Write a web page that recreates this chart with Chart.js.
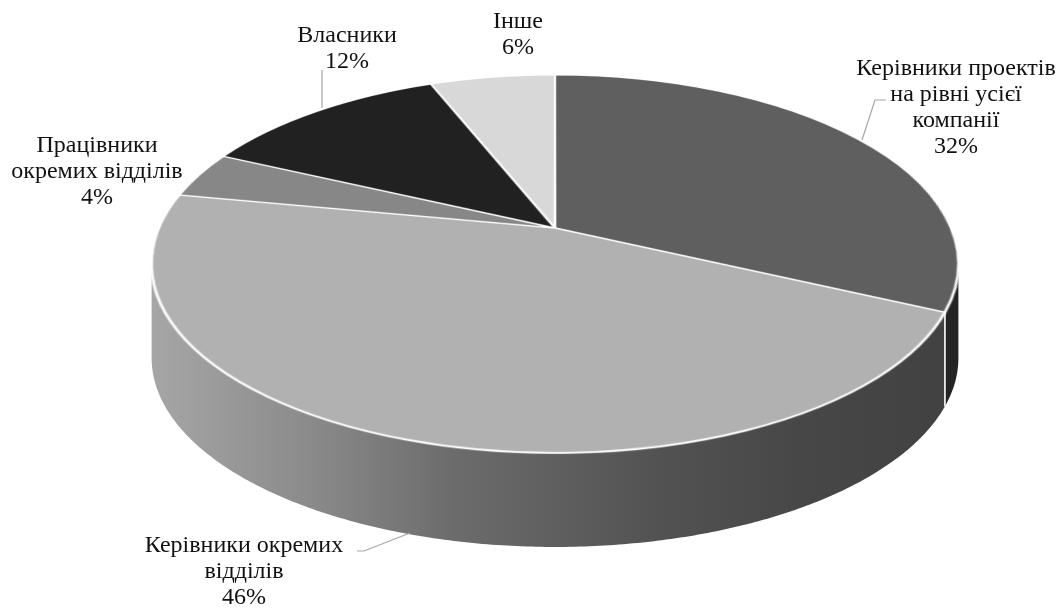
<!DOCTYPE html>
<html>
<head>
<meta charset="utf-8">
<script src="https://cdn.jsdelivr.net/npm/chart.js@4.4.1/dist/chart.umd.min.js"></script>
<style>
  html, body { margin: 0; padding: 0; background: #ffffff; }
  canvas { display: block; }
</style>
</head>
<body>
<canvas id="chart" width="1062" height="608"></canvas>
<script>
// Categories, in drawing order (clockwise from 12 o'clock)
const categories = [
  'Керівники проектів на рівні усієї компанії',
  'Керівники окремих відділів',
  'Працівники окремих відділів',
  'Власники',
  'Інше'
];
// How each category label wraps on the chart
const labelLines = [
  ['Керівники проектів', 'на рівні усієї', 'компанії'],
  ['Керівники окремих', 'відділів'],
  ['Працівники', 'окремих відділів'],
  ['Власники'],
  ['Інше']
];
// Shares, %
const shares = [32, 46, 4, 12, 6];
// Face colours of the slices
const sliceColors = ['#5f5f5f', '#b1b1b1', '#878787', '#212121', '#d8d8d8'];

// ---- layout and styling ----
// Tilted-disc projection: centre of the disc, half-width, depth scale, perspective factor
const VIEW = { x0: 555, y0: 228, A: 396, B: 182.1, c: -0.1905, depth: 94 };
// Side-wall lighting: brightness factor across the width of the disc
const SIDE_LIGHT = [[0, 0.94], [0.186, 0.79], [0.372, 0.61], [0.508, 0.53], [0.632, 0.465], [0.806, 0.40], [1, 0.37]];
const FONT = '24px "Liberation Serif", "Times New Roman", serif';
const LINE_H = 26;
// Label block centre x and first baseline y, per category
const labelPos = [[956, 75], [244, 552], [97, 152], [347, 42], [518, 28]];
// Leader lines (label -> slice), per category
const leaders = [
  [[886, 100], [875, 100], [862, 140]],
  [[357, 551], [364, 551], [410, 533]],
  null,
  [[322, 70], [322, 108]],
  null
];

function project(u, v) {
  const d = 1 + VIEW.c * v;
  return [VIEW.x0 + VIEW.A * u / d, VIEW.y0 + VIEW.B * v / d];
}
function rim(a) { return project(Math.cos(a), Math.sin(a)); }

function shade(hex, f) {
  const n = parseInt(hex.slice(1), 16);
  const r = Math.round(((n >> 16) & 255) * f), g = Math.round(((n >> 8) & 255) * f), b = Math.round((n & 255) * f);
  return 'rgb(' + r + ',' + g + ',' + b + ')';
}

const tiltPlugin = {
  id: 'tiltedDisc',
  afterDatasetsDraw(chart) {
    const ctx = chart.ctx;
    const W = chart.canvas.width, H = chart.canvas.height;
    const arcs = chart.getDatasetMeta(0).data;
    const cx = arcs[0].x, cy = arcs[0].y, R = arcs[0].outerRadius;

    // flat pie as drawn by Chart.js
    const src = ctx.getImageData(0, 0, W, H);
    const sd = src.data;

    ctx.save();
    ctx.setTransform(1, 0, 0, 1, 0, 0);
    ctx.clearRect(0, 0, W, H);
    ctx.fillStyle = '#ffffff';
    ctx.fillRect(0, 0, W, H);

    // silhouette angles of the disc edge
    let aR = 0, aL = Math.PI, best = -1e9, worst = 1e9;
    for (let a = -Math.PI / 2; a <= Math.PI / 2; a += 0.0005) {
      const x = rim(a)[0]; if (x > best) { best = x; aR = a; }
    }
    for (let a = Math.PI / 2; a <= 1.5 * Math.PI; a += 0.0005) {
      const x = rim(a)[0]; if (x < worst) { worst = x; aL = a; }
    }
    const xL = worst, xR = best;

    // side walls
    arcs.forEach((el, i) => {
      const s = Math.max(el.startAngle, aR), e = Math.min(el.endAngle, aL);
      if (e <= s) return;
      const steps = Math.max(4, Math.ceil((e - s) / 0.01));
      ctx.beginPath();
      for (let k = 0; k <= steps; k++) {
        const p = rim(s + (e - s) * k / steps);
        k === 0 ? ctx.moveTo(p[0], p[1]) : ctx.lineTo(p[0], p[1]);
      }
      for (let k = steps; k >= 0; k--) {
        const p = rim(s + (e - s) * k / steps);
        ctx.lineTo(p[0], p[1] + VIEW.depth);
      }
      ctx.closePath();
      const g = ctx.createLinearGradient(xL, 0, xR, 0);
      SIDE_LIGHT.forEach(([t, f]) => g.addColorStop(t, shade(sliceColors[i], f)));
      ctx.fillStyle = g;
      ctx.fill();
    });
    // slice seams on the side wall
    ctx.strokeStyle = '#ffffff';
    ctx.lineWidth = 1.6;
    arcs.forEach((el) => {
      const a = el.endAngle;
      if (a > aR && a < aL) {
        const p = rim(a);
        ctx.beginPath();
        ctx.moveTo(p[0], p[1]);
        ctx.lineTo(p[0], p[1] + VIEW.depth);
        ctx.stroke();
      }
    });

    // top face: re-project the flat pie onto the tilted disc
    const off = document.createElement('canvas');
    off.width = W; off.height = H;
    const octx = off.getContext('2d');
    const out = octx.createImageData(W, H);
    const od = out.data;
    const lim = 1 + 3 / R;
    const y0 = Math.floor(rim(-Math.PI / 2)[1]) - 2, y1 = Math.ceil(rim(Math.PI / 2)[1]) + 2;
    const x0 = Math.floor(xL) - 2, x1 = Math.ceil(xR) + 2;
    const offs = [0.25, 0.75];
    for (let y = Math.max(0, y0); y <= Math.min(H - 1, y1); y++) {
      for (let x = Math.max(0, x0); x <= Math.min(W - 1, x1); x++) {
        let ar = 0, ag = 0, ab = 0, aa = 0;
        for (const oy of offs) for (const ox of offs) {
          const dy = y + oy - VIEW.y0;
          const v = dy / (VIEW.B - VIEW.c * dy);
          const u = (x + ox - VIEW.x0) * (1 + VIEW.c * v) / VIEW.A;
          if (u * u + v * v > lim * lim) continue;
          const sx = cx + R * u - 0.5, sy = cy + R * v - 0.5;
          const ix = Math.floor(sx), iy = Math.floor(sy);
          const fx = sx - ix, fy = sy - iy;
          const nb = [[ix, iy, (1 - fx) * (1 - fy)], [ix + 1, iy, fx * (1 - fy)], [ix, iy + 1, (1 - fx) * fy], [ix + 1, iy + 1, fx * fy]];
          for (const [px, py, w] of nb) {
            if (px < 0 || py < 0 || px >= W || py >= H) continue;
            const idx = (py * W + px) * 4;
            const al = sd[idx + 3] / 255 * w;
            ar += sd[idx] * al; ag += sd[idx + 1] * al; ab += sd[idx + 2] * al; aa += al;
          }
        }
        if (aa > 0) {
          const o = (y * W + x) * 4;
          od[o] = ar / aa; od[o + 1] = ag / aa; od[o + 2] = ab / aa;
          od[o + 3] = Math.min(255, aa / 4 * 255);
        }
      }
    }
    octx.putImageData(out, 0, 0);
    ctx.drawImage(off, 0, 0);
    ctx.restore();
  },
  afterDraw(chart) {
    const ctx = chart.ctx;
    ctx.save();
    // leader lines
    ctx.strokeStyle = '#a6a6a6';
    ctx.lineWidth = 1.2;
    leaders.forEach((pts) => {
      if (!pts) return;
      ctx.beginPath();
      pts.forEach((p, k) => (k === 0 ? ctx.moveTo(p[0], p[1]) : ctx.lineTo(p[0], p[1])));
      ctx.stroke();
    });
    // data labels
    ctx.font = FONT;
    ctx.fillStyle = '#111111';
    ctx.textAlign = 'center';
    ctx.textBaseline = 'alphabetic';
    const total = shares.reduce((s, v) => s + v, 0);
    categories.forEach((name, i) => {
      const lines = labelLines[i].concat([Math.round(shares[i] / total * 100) + '%']);
      const [lx, ly] = labelPos[i];
      lines.forEach((t, k) => ctx.fillText(t, lx, ly + k * LINE_H));
    });
    ctx.restore();
  }
};

new Chart(document.getElementById('chart'), {
  type: 'pie',
  data: {
    labels: categories,
    datasets: [{
      data: shares,
      backgroundColor: sliceColors,
      borderColor: '#ffffff',
      borderWidth: 2
    }]
  },
  options: {
    responsive: false,
    devicePixelRatio: 1,
    animation: false,
    events: [],
    layout: { padding: 2 },
    plugins: {
      legend: { display: false },
      tooltip: { enabled: false },
      title: { display: false }
    }
  },
  plugins: [tiltPlugin]
});
</script>
</body>
</html>
